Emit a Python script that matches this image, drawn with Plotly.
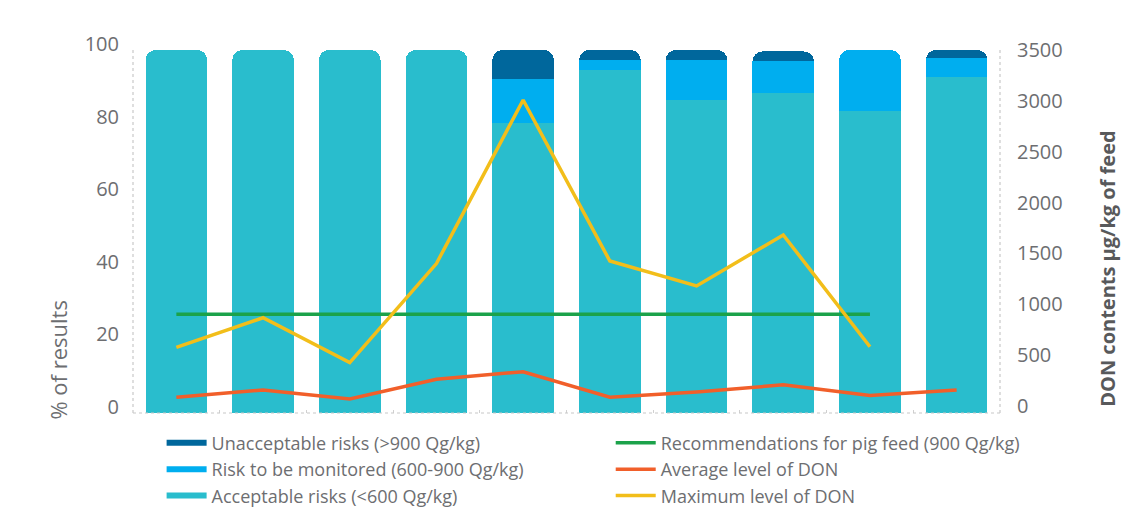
import plotly.graph_objects as go

categories = ["1", "2", "3", "4", "5", "6", "7", "8", "9", "10"]

acceptable = [100, 100, 100, 100, 80.0, 94.4, 86.2, 88.2, 83.3, 92.5]
monitored = [0, 0, 0, 0, 12.0, 2.8, 11.0, 8.7, 16.7, 5.2]
unacceptable = [0, 0, 0, 0, 8.0, 2.8, 2.8, 2.7, 0, 2.3]

recommendation = [900, 900, 900, 900, 900, 900, 900, 900, 900, None]
average_don = [85, 156, 68, 262, 336, 85, 137, 207, 101, 156]
maximum_don = [576, 867, 425, 1400, 3008, 1425, 1180, 1681, 582, None]

left_ticks = [0, 20, 40, 60, 80, 100]
right_ticks = [0, 500, 1000, 1500, 2000, 2500, 3000, 3500]

C_DARK = "#00679C"
C_BLUE = "#00AEEF"
C_TEAL = "#29BDCD"
C_GREEN = "#1BA24A"
C_ORANGE = "#F15F2A"
C_YELLOW = "#F2BE1A"
GRAY = "#6D6E71"
FONT = "Open Sans"

fig = go.Figure()

# stacked bars (legend via proxies)
for name, vals, col in [
    ("Acceptable risks (<600 Qg/kg)", acceptable, C_TEAL),
    ("Risk to be monitored (600-900 Qg/kg)", monitored, C_BLUE),
    ("Unacceptable risks (>900 Qg/kg)", unacceptable, C_DARK),
]:
    fig.add_trace(go.Bar(x=categories, y=vals, name=name, marker_color=col,
                         marker_line_width=0, showlegend=False, yaxis="y"))

# legend proxies for bars (wide flat swatches)
for name, col in [
    ("Unacceptable risks (>900 Qg/kg)", C_DARK),
    ("Risk to be monitored (600-900 Qg/kg)", C_BLUE),
    ("Acceptable risks (<600 Qg/kg)", C_TEAL),
]:
    fig.add_trace(go.Scatter(x=[None], y=[None], mode="lines", name=name,
                             line=dict(color=col, width=6), legend="legend", yaxis="y2"))

for name, vals, col in [
    ("Recommendations for pig feed (900 Qg/kg)", recommendation, C_GREEN),
    ("Average level of DON", average_don, C_ORANGE),
    ("Maximum level of DON", maximum_don, C_YELLOW),
]:
    fig.add_trace(go.Scatter(x=categories, y=vals, mode="lines", name=name,
                             line=dict(color=col, width=3.5), legend="legend2",
                             yaxis="y2"))

dot = dict(color="#C8C8C8", width=1.2, dash="dot")
shapes = [
    dict(type="line", xref="paper", yref="paper", x0=0, x1=1, y0=0, y1=0, line=dot),
    dict(type="line", xref="paper", yref="paper", x0=0, x1=0, y0=0, y1=1, line=dot),
    dict(type="line", xref="paper", yref="paper", x0=1, x1=1, y0=0, y1=1, line=dot),
]

legend_font = dict(size=18, color=GRAY, family=FONT)

fig.update_layout(
    width=1124, height=509,
    margin=dict(l=133, r=124, t=50, b=96, autoexpand=False),
    paper_bgcolor="white", plot_bgcolor="white",
    barmode="stack", bargap=0.29, barcornerradius=10,
    font=dict(family=FONT, color=GRAY),
    showlegend=True,
    xaxis=dict(type="category", range=[-0.5, 9.5], showticklabels=False,
               showgrid=False, zeroline=False, showline=False,
               ticks="inside", tickson="boundaries", ticklen=3,
               tickcolor="#D0D0D0", tickwidth=1),
    yaxis=dict(range=[0, 100], tickvals=left_ticks, showgrid=False,
               zeroline=False, showline=False, ticks="",
               tickfont=dict(size=20, color=GRAY, family=FONT),
               ticklabelstandoff=13, ticklabelshift=-6),
    yaxis2=dict(range=[-70, 3500], tickvals=right_ticks, overlaying="y",
                side="right", showgrid=False, zeroline=False, showline=False,
                ticks="", tickfont=dict(size=20, color=GRAY, family=FONT),
                ticklabelstandoff=16),
    legend=dict(x=0.033, y=-0.032, xanchor="left", yanchor="top",
                orientation="v", traceorder="normal", font=legend_font,
                itemwidth=40, tracegroupgap=0, bgcolor="rgba(0,0,0,0)"),
    legend2=dict(x=0.551, y=-0.032, xanchor="left", yanchor="top",
                 orientation="v", traceorder="normal", font=legend_font,
                 itemwidth=40, tracegroupgap=0, bgcolor="rgba(0,0,0,0)"),
    shapes=shapes,
    annotations=[
        dict(text="% of results", xref="paper", yref="paper", x=-0.087, y=0.146,
             textangle=-90, showarrow=False, xanchor="center", yanchor="middle",
             font=dict(size=22, color=GRAY, family=FONT)),
        dict(text="<b>DON contents µg/kg of feed</b>", xref="paper", yref="paper",
             x=1.1245, y=0.397, textangle=-90, showarrow=False,
             xanchor="center", yanchor="middle",
             font=dict(size=20, color="#58595B", family=FONT)),
    ],
)

fig.write_html("out.html", config={"displayModeBar": False},
               post_script="document.body.style.margin='0';document.body.style.overflow='hidden';")
